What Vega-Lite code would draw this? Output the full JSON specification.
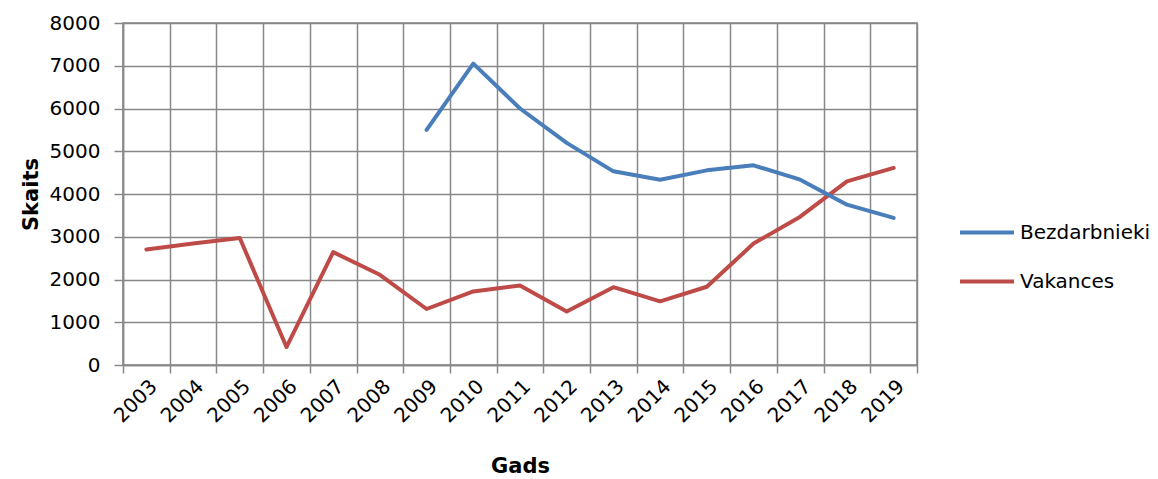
{
  "$schema": "https://vega.github.io/schema/vega-lite/v6.json",
  "width": 794,
  "height": 342,
  "autosize": {"type": "none"},
  "padding": {"left": 123, "top": 23, "right": 241, "bottom": 114},
  "background": "white",
  "config": {
    "view": {"stroke": "#888888", "strokeWidth": 1.5},
    "font": "DejaVu Sans",
    "axis": {
      "gridColor": "#888888", "gridWidth": 1.5, "gridOpacity": 1,
      "tickColor": "#888888", "tickWidth": 1.5,
      "domainColor": "#888888", "domainWidth": 1.5,
      "labelColor": "#000000", "labelFontSize": 20, "labelFont": "DejaVu Sans",
      "titleFontSize": 21, "titleFont": "DejaVu Sans", "titleFontWeight": "bold", "titleColor": "#000000"
    }
  },
  "data": {
    "values": [
      {"year": 2003, "series": "Vakances", "value": 2700},
      {"year": 2004, "series": "Vakances", "value": 2840},
      {"year": 2005, "series": "Vakances", "value": 2970},
      {"year": 2006, "series": "Vakances", "value": 420},
      {"year": 2007, "series": "Vakances", "value": 2640},
      {"year": 2008, "series": "Vakances", "value": 2110},
      {"year": 2009, "series": "Vakances", "value": 1310},
      {"year": 2010, "series": "Vakances", "value": 1720},
      {"year": 2011, "series": "Vakances", "value": 1860},
      {"year": 2012, "series": "Vakances", "value": 1250},
      {"year": 2013, "series": "Vakances", "value": 1820},
      {"year": 2014, "series": "Vakances", "value": 1490},
      {"year": 2015, "series": "Vakances", "value": 1830},
      {"year": 2016, "series": "Vakances", "value": 2840},
      {"year": 2017, "series": "Vakances", "value": 3470},
      {"year": 2018, "series": "Vakances", "value": 4295},
      {"year": 2019, "series": "Vakances", "value": 4610},
      {"year": 2009, "series": "Bezdarbnieki", "value": 5500},
      {"year": 2010, "series": "Bezdarbnieki", "value": 7050},
      {"year": 2011, "series": "Bezdarbnieki", "value": 6000},
      {"year": 2012, "series": "Bezdarbnieki", "value": 5195},
      {"year": 2013, "series": "Bezdarbnieki", "value": 4530},
      {"year": 2014, "series": "Bezdarbnieki", "value": 4335},
      {"year": 2015, "series": "Bezdarbnieki", "value": 4553},
      {"year": 2016, "series": "Bezdarbnieki", "value": 4670},
      {"year": 2017, "series": "Bezdarbnieki", "value": 4335},
      {"year": 2018, "series": "Bezdarbnieki", "value": 3750},
      {"year": 2019, "series": "Bezdarbnieki", "value": 3440}
    ]
  },
  "mark": {"type": "line", "strokeWidth": 4, "strokeJoin": "round", "strokeCap": "round"},
  "encoding": {
    "x": {
      "field": "year",
      "type": "ordinal",
      "bandPosition": 0.5,
      "scale": {"type": "band", "paddingInner": 0, "paddingOuter": 0},
      "axis": {
        "title": "Gads",
        "labelAngle": -45,
        "tickBand": "extent",
        "grid": true,
        "tickSize": 8,
        "labelPadding": 3,
        "titlePadding": 29
      }
    },
    "y": {
      "field": "value",
      "type": "quantitative",
      "scale": {"domain": [0, 8000], "nice": false},
      "axis": {
        "title": "Skaits",
        "values": [0, 1000, 2000, 3000, 4000, 5000, 6000, 7000, 8000],
        "format": "d",
        "grid": true,
        "tickSize": 9,
        "labelPadding": 14,
        "titlePadding": 8
      }
    },
    "color": {
      "field": "series",
      "type": "nominal",
      "scale": {"domain": ["Bezdarbnieki", "Vakances"], "range": ["#4A7EBB", "#BE4B48"]},
      "legend": {
        "title": null,
        "orient": "none",
        "legendX": 835,
        "legendY": 199,
        "symbolType": "stroke",
        "symbolSize": 2916,
        "symbolStrokeWidth": 4,
        "clipHeight": 21,
        "rowPadding": 28,
        "labelFontSize": 20,
        "labelFont": "DejaVu Sans",
        "labelColor": "#000000",
        "labelOffset": 4
      }
    }
  }
}
